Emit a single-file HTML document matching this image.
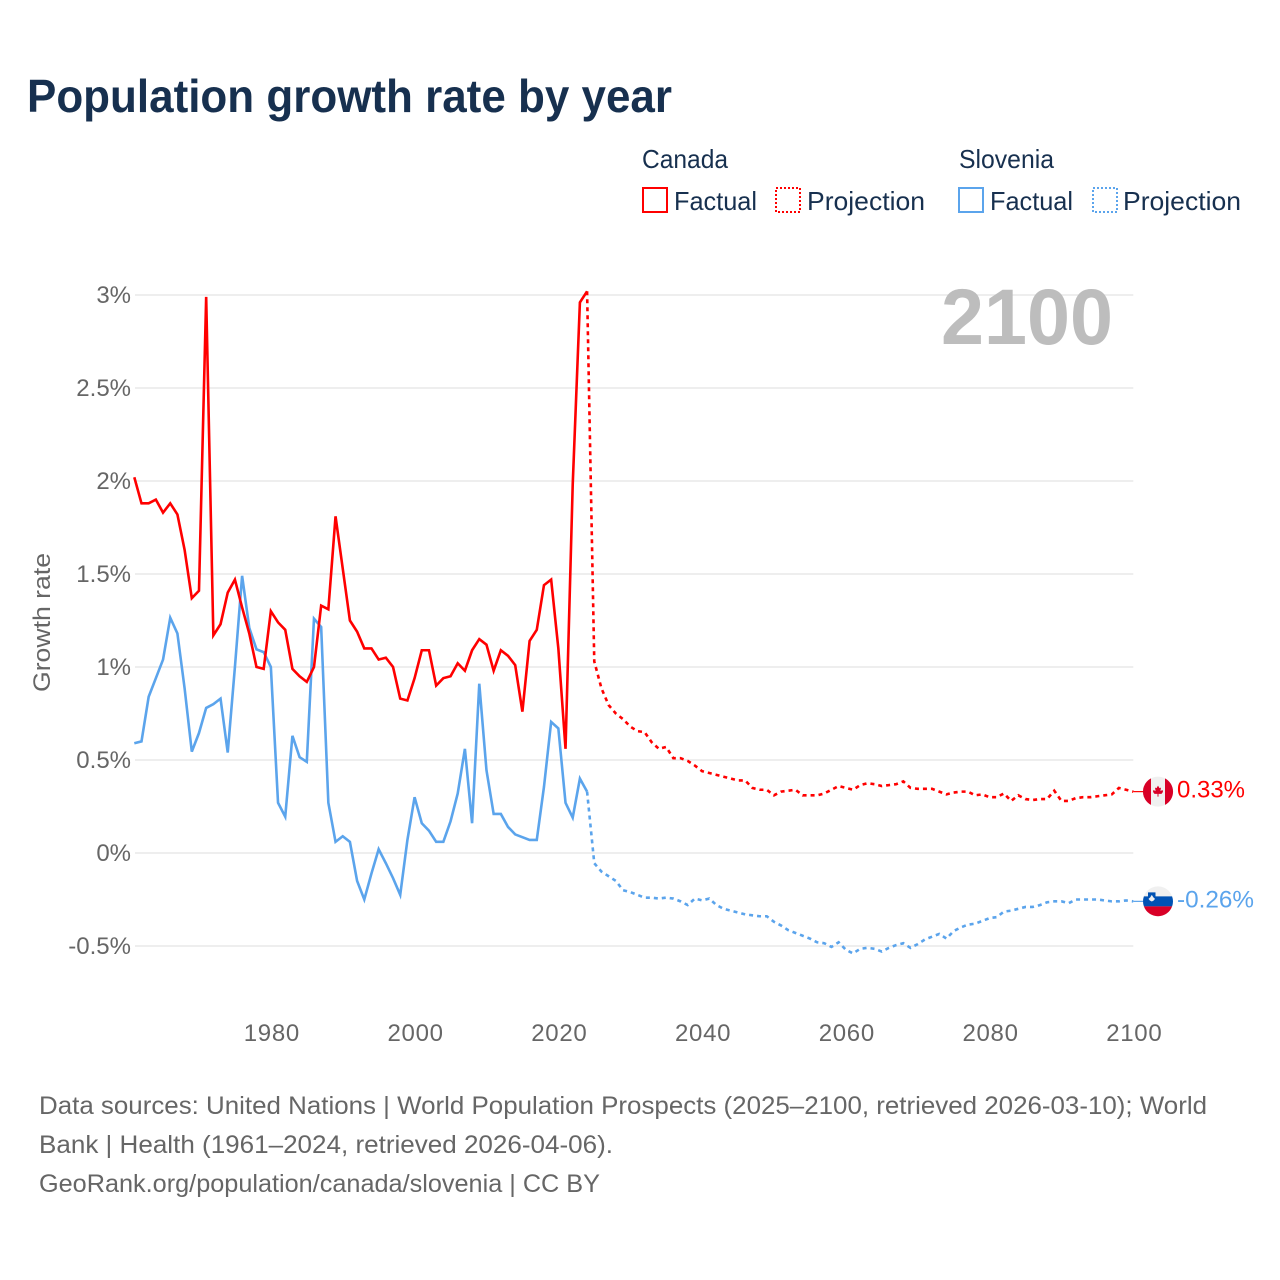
<!DOCTYPE html>
<html lang="en">
<head>
<meta charset="utf-8">
<title>Population growth rate by year</title>
<style>
  html, body { margin: 0; padding: 0; background: #fff; }
  svg { display: block; font-family: "Liberation Sans", sans-serif; }
</style>
</head>
<body>
<svg id="chart" xmlns="http://www.w3.org/2000/svg" width="1280" height="1280" viewBox="0 0 1280 1280">
  <rect width="1280" height="1280" fill="#fff"/>
  <text x="27" y="112" font-size="46" font-weight="700" fill="#17304f" textLength="645" lengthAdjust="spacingAndGlyphs">Population growth rate by year</text>

  <g font-size="26" fill="#17304f">
    <text x="642" y="168" textLength="86" lengthAdjust="spacingAndGlyphs">Canada</text>
    <text x="959" y="168" textLength="95" lengthAdjust="spacingAndGlyphs">Slovenia</text>
    <rect x="643" y="188" width="24" height="24" fill="none" stroke="#ff0000" stroke-width="2"/>
    <text x="674" y="210" textLength="83" lengthAdjust="spacingAndGlyphs">Factual</text>
    <rect x="776" y="188" width="24" height="24" fill="none" stroke="#ff0000" stroke-width="2" stroke-dasharray="2 2"/>
    <text x="807" y="210" textLength="118" lengthAdjust="spacingAndGlyphs">Projection</text>
    <rect x="959" y="188" width="24" height="24" fill="none" stroke="#5ba4ec" stroke-width="2"/>
    <text x="990" y="210" textLength="83" lengthAdjust="spacingAndGlyphs">Factual</text>
    <rect x="1093" y="188" width="24" height="24" fill="none" stroke="#5ba4ec" stroke-width="2" stroke-dasharray="2 2"/>
    <text x="1123" y="210" textLength="118" lengthAdjust="spacingAndGlyphs">Projection</text>
  </g>

  <g id="grid"></g>
  <g id="yticks" font-size="24" fill="#666" text-anchor="end"></g>
  <g id="xticks" font-size="24" fill="#666" text-anchor="middle" letter-spacing="0.7"></g>
  <text transform="translate(50 622.5) rotate(-90)" font-size="24" fill="#666" text-anchor="middle" textLength="139" lengthAdjust="spacingAndGlyphs">Growth rate</text>
  <text x="1113" y="344" font-size="79" font-weight="700" fill="#bdbdbd" text-anchor="end" textLength="172" lengthAdjust="spacingAndGlyphs">2100</text>

  <g id="series"></g>

  <g id="flag-canada">
    <circle cx="0" cy="0" r="15" fill="#f0f0f0"/>
    <path d="M-7 -13.3A15 15 0 0 0 -7 13.3Z" fill="#d80027"/>
    <path d="M7 -13.3A15 15 0 0 1 7 13.3Z" fill="#d80027"/>
    <path d="M0 -6L1.5 -3.5L3 -4L2.4 -.6L4.6 -1.6L5 .2L3.5 2.2L.5 2.2V5H-.5V2.2L-3.5 2.2L-5 .2L-4.6 -1.6L-2.4 -.6L-3 -4L-1.5 -3.5Z" fill="#d80027"/>
  </g>
  <g id="flag-slovenia">
    <circle cx="0" cy="0" r="15" fill="#f0f0f0"/>
    <path d="M-14.1 -5H14.1A15 15 0 0 1 14.1 5H-14.1A15 15 0 0 1 -14.1 -5Z" fill="#0052b4"/>
    <path d="M-14.1 5H14.1A15 15 0 0 1 -14.1 5Z" fill="#d80027"/>
    <path d="M-10 -9H-2.5V-3.5Q-2.5 -.5 -6.2 .8Q-10 -.5 -10 -3.5Z" fill="#0052b4"/>
    <path d="M-9.5 -2.5L-7.8 -4L-6.2 -6.5L-4.6 -4L-3 -2.5Q-4 -.6 -6.2 .2Q-8.5 -.6 -9.5 -2.5Z" fill="#f0f0f0"/>
  </g>
  <g id="end-labels" font-size="24"></g>

  <g font-size="25" fill="#666">
    <text x="39" y="1114" textLength="1168" lengthAdjust="spacingAndGlyphs">Data sources: United Nations | World Population Prospects (2025–2100, retrieved 2026-03-10); World</text>
    <text x="39" y="1153" textLength="574" lengthAdjust="spacingAndGlyphs">Bank | Health (1961–2024, retrieved 2026-04-06).</text>
    <text x="39" y="1192" textLength="561" lengthAdjust="spacingAndGlyphs">GeoRank.org/population/canada/slovenia | CC BY</text>
  </g>
</svg>
<script>
const firstYear = 1961;
const lastFactualYear = 2024;
const lastYear = 2100;
const xTickLabels = [1980, 2000, 2020, 2040, 2060, 2080, 2100];
const yTickValues = [3, 2.5, 2, 1.5, 1, 0.5, 0, -0.5];
const yTickLabels = ["3%", "2.5%", "2%", "1.5%", "1%", "0.5%", "0%", "-0.5%"];

const canadaFactual = [2.02, 1.88, 1.88, 1.90, 1.83, 1.88, 1.82, 1.63, 1.37, 1.41,
  2.99, 1.17, 1.23, 1.40, 1.47, 1.32, 1.18, 1.00, 0.99, 1.30,
  1.24, 1.20, 0.99, 0.95, 0.92, 1.00, 1.33, 1.31, 1.81, 1.53,
  1.25, 1.19, 1.10, 1.10, 1.04, 1.05, 1.00, 0.83, 0.82, 0.94,
  1.09, 1.09, 0.90, 0.94, 0.95, 1.02, 0.98, 1.09, 1.15, 1.12,
  0.98, 1.09, 1.06, 1.01, 0.76, 1.14, 1.20, 1.44, 1.47, 1.10,
  0.56, 1.98, 2.96, 3.02];
const canadaProjection = [1.03, 0.885, 0.795, 0.75, 0.72, 0.68, 0.655, 0.65, 0.595, 0.56,
  0.57, 0.51, 0.51, 0.495, 0.47, 0.44, 0.43, 0.42, 0.41, 0.40,
  0.39, 0.39, 0.35, 0.34, 0.34, 0.31, 0.33, 0.335, 0.34, 0.31,
  0.31, 0.31, 0.32, 0.34, 0.36, 0.35, 0.34, 0.365, 0.375, 0.37,
  0.36, 0.365, 0.37, 0.385, 0.35, 0.345, 0.345, 0.345, 0.33, 0.315,
  0.325, 0.33, 0.33, 0.31, 0.315, 0.30, 0.30, 0.32, 0.28, 0.31,
  0.29, 0.285, 0.29, 0.29, 0.335, 0.28, 0.28, 0.295, 0.30, 0.30,
  0.305, 0.31, 0.315, 0.35, 0.34, 0.33];
const sloveniaFactual = [0.59, 0.60, 0.84, 0.94, 1.04, 1.265, 1.18, 0.885, 0.545, 0.645,
  0.78, 0.80, 0.83, 0.54, 1.00, 1.49, 1.21, 1.095, 1.08, 1.00,
  0.27, 0.195, 0.63, 0.515, 0.49, 1.26, 1.215, 0.27, 0.06, 0.09,
  0.06, -0.15, -0.25, -0.11, 0.02, -0.055, -0.135, -0.225, 0.07, 0.30,
  0.16, 0.12, 0.06, 0.06, 0.17, 0.32, 0.56, 0.16, 0.91, 0.445,
  0.21, 0.21, 0.14, 0.10, 0.085, 0.07, 0.07, 0.355, 0.705, 0.67,
  0.27, 0.19, 0.40, 0.33];
const sloveniaProjection = [-0.055, -0.10, -0.125, -0.15, -0.20, -0.21, -0.225, -0.24, -0.24, -0.245,
  -0.24, -0.245, -0.26, -0.28, -0.245, -0.255, -0.245, -0.28, -0.30, -0.31,
  -0.32, -0.33, -0.335, -0.34, -0.34, -0.37, -0.39, -0.415, -0.43, -0.445,
  -0.46, -0.48, -0.485, -0.505, -0.48, -0.52, -0.54, -0.515, -0.51, -0.515,
  -0.53, -0.51, -0.495, -0.485, -0.51, -0.49, -0.465, -0.45, -0.435, -0.46,
  -0.42, -0.40, -0.385, -0.38, -0.365, -0.35, -0.345, -0.315, -0.31, -0.30,
  -0.29, -0.29, -0.28, -0.265, -0.26, -0.26, -0.27, -0.25, -0.25, -0.25,
  -0.25, -0.255, -0.26, -0.26, -0.255, -0.26];
const endLabels = ["0.33%", "-0.26%"];

const NS = "http://www.w3.org/2000/svg";
const RED = "#ff0000";
const BLUE = "#5ba4ec";
const LINE_WIDTH = 2.6;
function xScale(year) { return 134.3 + (year - firstYear) * (1133.3 - 134.3) / (lastYear - firstYear); }
function yScale(value) { return 853 - value * 186; }
function make(tag, attrs) {
  const el = document.createElementNS(NS, tag);
  for (const k in attrs) el.setAttribute(k, attrs[k]);
  return el;
}
function points(values, startYear) {
  return values.map(function (v, i) {
    return (i ? "L" : "M") + xScale(startYear + i).toFixed(2) + " " + yScale(v).toFixed(2);
  }).join("");
}

const grid = document.getElementById("grid");
const yticks = document.getElementById("yticks");
yTickValues.forEach(function (v, i) {
  const line = make("line", { x1: 135, x2: 1133.3, y1: yScale(v), y2: yScale(v), stroke: "#e8e8e8", "stroke-width": 1.4 });
  
  
  grid.appendChild(line);
  const label = make("text", { x: 131, y: yScale(v) + 8 });
  
  
  label.textContent = yTickLabels[i];
  yticks.appendChild(label);
});

const xticks = document.getElementById("xticks");
xTickLabels.forEach(function (year) {
  const label = make("text", { x: xScale(year) + 1, y: 1041 });
  
  
  label.textContent = year;
  xticks.appendChild(label);
});

const series = document.getElementById("series");

const sloveniaFactualLine = make("path", { d: points(sloveniaFactual, firstYear), fill: "none", stroke: BLUE, "stroke-width": LINE_WIDTH });


series.appendChild(sloveniaFactualLine);

const sloveniaProjectionLine = make("path", { d: points([sloveniaFactual[sloveniaFactual.length - 1]].concat(sloveniaProjection), lastFactualYear), fill: "none", stroke: BLUE, "stroke-width": LINE_WIDTH, "stroke-dasharray": "4 4" });


series.appendChild(sloveniaProjectionLine);

const canadaFactualLine = make("path", { d: points(canadaFactual, firstYear), fill: "none", stroke: RED, "stroke-width": LINE_WIDTH });


series.appendChild(canadaFactualLine);

const canadaProjectionLine = make("path", { d: points([canadaFactual[canadaFactual.length - 1]].concat(canadaProjection), lastFactualYear), fill: "none", stroke: RED, "stroke-width": LINE_WIDTH, "stroke-dasharray": "4 4" });


series.appendChild(canadaProjectionLine);

const canadaEnd = yScale(canadaProjection[canadaProjection.length - 1]);
const sloveniaEnd = yScale(sloveniaProjection[sloveniaProjection.length - 1]);

const canadaConnector = make("line", { x1: xScale(lastYear), x2: 1144, y1: canadaEnd, y2: canadaEnd, stroke: RED, "stroke-width": 1.2 });


series.appendChild(canadaConnector);

const sloveniaConnector = make("line", { x1: xScale(lastYear), x2: 1144, y1: sloveniaEnd, y2: sloveniaEnd, stroke: BLUE, "stroke-width": 1.2 });


series.appendChild(sloveniaConnector);

document.getElementById("flag-canada").setAttribute("transform", "translate(1158 " + canadaEnd + ")");
document.getElementById("flag-slovenia").setAttribute("transform", "translate(1158 " + sloveniaEnd + ")");

const endGroup = document.getElementById("end-labels");
const canadaLabel = make("text", { x: 1177, y: canadaEnd + 6, fill: RED, textLength: 68, lengthAdjust: "spacingAndGlyphs" });


canadaLabel.textContent = endLabels[0];
endGroup.appendChild(canadaLabel);

const sloveniaLabel = make("text", { x: 1177, y: sloveniaEnd + 6, fill: BLUE, textLength: 77, lengthAdjust: "spacingAndGlyphs" });


sloveniaLabel.textContent = endLabels[1];
endGroup.appendChild(sloveniaLabel);
</script>
</body>
</html>
